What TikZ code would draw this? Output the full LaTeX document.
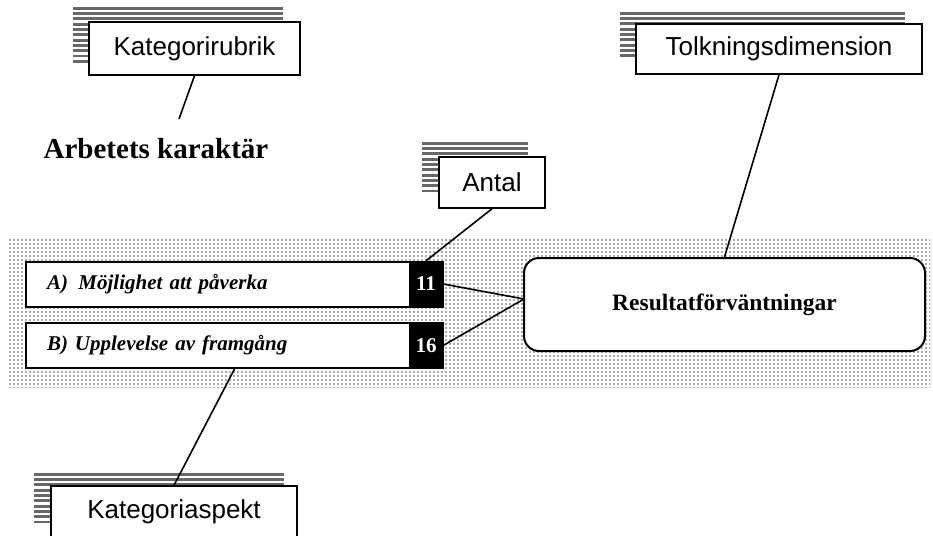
\documentclass[tikz,border=0pt]{standalone}
\usepackage{fontspec}
\setmainfont{Liberation Serif}
\newfontfamily\arialf{Liberation Sans}
\usetikzlibrary{patterns.meta}
\definecolor{stripegray}{HTML}{686868}
\definecolor{dotgray}{HTML}{555555}
\tikzdeclarepattern{
  name=mydots, type=uncolored,
  bounding box={(0pt,0pt) and (4.4pt,4.4pt)},
  tile size={(4.4pt,4.4pt)},
  code={\fill (2.2pt,2.2pt) circle (1pt);}
}
\newcommand{\stripeblock}[4]{% x1, x2, ytop, n
  \foreach \k in {0,...,#4}{
    \draw[stripegray, line width=2.9pt] (#1,{#3+5.3*\k}) -- (#2,{#3+5.3*\k});
  }
}
\begin{document}
\begin{tikzpicture}[x=1pt,y=-1pt,
  callout/.style={draw, line width=1.5pt, fill=white, inner sep=0pt,
    font=\arialf\fontsize{26}{30}\selectfont},
  catbox/.style={draw, line width=2pt, fill=white, inner ysep=0pt, inner xsep=21pt,
    text width=375pt, align=left, minimum height=45pt,
    font=\bfseries\itshape\fontsize{21}{24}\selectfont},
  numbox/.style={fill=black, text=white, inner sep=0pt, minimum width=34pt, minimum height=46pt,
    font=\bfseries\fontsize{21}{24}\selectfont},
  conn/.style={line width=1.6pt}
]
\useasboundingbox (0,0) rectangle (933,535);

% dotted band
\path[pattern={mydots}, pattern color=dotgray] (8,237) rectangle (930,387);

% stripes behind callouts
\stripeblock{73}{283}{8.3}{10}
\stripeblock{422}{528}{143.3}{9}
\stripeblock{620}{905}{13.3}{8}
\stripeblock{34}{284}{474.3}{9}

% callouts
\node[callout, minimum width=211pt, minimum height=53pt] (kr) at (194.5,48.5) {Kategorirubrik};
\node[callout, minimum width=106pt, minimum height=51pt] (antal) at (492,182.5) {Antal};
\node[callout, minimum width=286pt, minimum height=50pt] (tolk) at (779,49) {Tolkningsdimension};
\node[callout, minimum width=246pt, minimum height=51pt] (kasp) at (174,511.5) {Kategoriaspekt};

% heading
\node[font=\bfseries\fontsize{29}{32}\selectfont, inner sep=0pt] (head) at (156,149) {Arbetets karaktär};

% category boxes
\node[catbox] (boxA) at (234.5,284) {A)\, Möjlighet att påverka};
\node[catbox] (boxB) at (234.5,345.5) {B) Upplevelse av framgång};
\node[numbox] (numA) at (426,284) {11};
\node[numbox, minimum height=45pt] (numB) at (426,345.5) {16};

% result box
\node[draw, line width=2pt, fill=white, rounded corners=15pt, minimum width=401pt, minimum height=93pt,
  font=\bfseries\fontsize{23.5}{26}\selectfont] (res) at (724.5,304.5) {Resultatförväntningar};
\coordinate (meet) at (524,299);
\coordinate (krend) at (179,119);

% connectors
\draw[conn] (kr.south) -- (krend);
\draw[conn] (tolk.south) -- (res.north);
\draw[conn] (antal.south) -- (numA.north);
\draw[conn] (numA.east) -- (meet);
\draw[conn] (numB.east) -- (meet);
\draw[conn] (boxB.south) -- (kasp.north);
\end{tikzpicture}
\end{document}
